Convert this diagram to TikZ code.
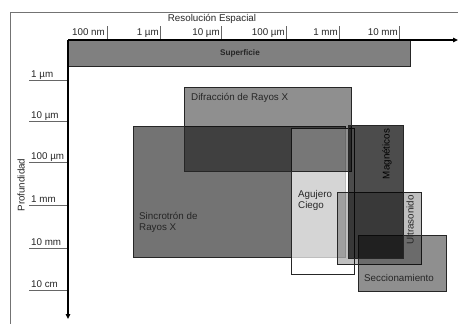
\documentclass[tikz,border=0pt]{standalone}
\usepackage{fontspec}
\setmainfont{Liberation Sans}
\usetikzlibrary{arrows.meta}
\begin{document}
\begin{tikzpicture}[x=1pt,y=-1pt,
  lbl/.style={inner sep=0pt, font=\fontsize{9.8}{11.5}\selectfont, text=black!85},
  band/.style={draw=black!85, line width=0.8pt},
  tickline/.style={draw=black!60, line width=0.6pt},
  axis/.style={line width=1.6pt, -{Triangle[length=5pt,width=4.5pt]}}]
\useasboundingbox (0,0) rectangle (458,324);
% frame
\draw[black!55, line width=0.6pt] (458,12) -- (10,12) -- (10,324);
% bands
\filldraw[band, fill=black!50] (68,40) rectangle (410,66);
\filldraw[band, fill=black!55] (133,126) rectangle (345,257);
\filldraw[band, fill=white, fill opacity=0.7] (291,128) rectangle (354,274);
\filldraw[band, fill=black, fill opacity=0.44] (184,87) rectangle (351,171);
\filldraw[band, fill=black, fill opacity=0.25] (337,192) rectangle (421,264);
\filldraw[band, fill=black, fill opacity=0.44] (358,235) rectangle (446,291);
\filldraw[band, fill=black, fill opacity=0.7] (348,125) rectangle (403,258);
% band labels
\node[lbl, font=\fontsize{8.2}{10}\selectfont\bfseries] (superficie) at (240,53) {Superficie};
\node[lbl, anchor=base west] (difraccion) at (191,100) {Difracción de Rayos X};
\node[lbl, anchor=north west, align=left] (sincrotron) at (139,212) {Sincrotrón de\\Rayos X};
\node[lbl, anchor=north west, align=left] (agujero) at (298,190) {Agujero\\Ciego};
\node[lbl, rotate=90, text=black] (magneticos) at (387,154) {Magnéticos};
\node[lbl, rotate=90] (ultrasonido) at (410,220) {Ultrasonido};
\node[lbl, anchor=base] (seccionamiento) at (399,281) {Seccionamiento};
% axis titles
\node[lbl] (resolucion) at (212,19) {Resolución Espacial};
\node[lbl, rotate=90] (profundidad) at (21,185) {Profundidad};
% top scale
\node[lbl, anchor=base east] (t100nm) at (105,35) {100 nm};
\node[lbl, anchor=base east] (t1um) at (159,35) {1 µm};
\node[lbl, anchor=base east] (t10um) at (220,35) {10 µm};
\node[lbl, anchor=base east] (t100um) at (285,35) {100 µm};
\node[lbl, anchor=base east] (t1mm) at (338,35) {1 mm};
\node[lbl, anchor=base east] (t10mm) at (398,35) {10 mm};
\draw[tickline] (107,26) -- (107,39);
\draw[tickline] (160,26) -- (160,39);
\draw[tickline] (221,26) -- (221,39);
\draw[tickline] (286,26) -- (286,39);
\draw[tickline] (339,26) -- (339,39);
\draw[tickline] (399,26) -- (399,39);
% left scale
\node[lbl, anchor=base west] (d1um) at (31,77) {1 µm};
\node[lbl, anchor=base west] (d10um) at (31,118) {10 µm};
\node[lbl, anchor=base west] (d100um) at (31,159) {100 µm};
\node[lbl, anchor=base west] (d1mm) at (31,202) {1 mm};
\node[lbl, anchor=base west] (d10mm) at (31,245) {10 mm};
\node[lbl, anchor=base west] (d10cm) at (31,287) {10 cm};
\draw[tickline] (29,80) -- (68,80);
\draw[tickline] (29,121) -- (68,121);
\draw[tickline] (29,162) -- (68,162);
\draw[tickline] (29,205) -- (68,205);
\draw[tickline] (29,248) -- (68,248);
\draw[tickline] (29,290) -- (68,290);
% axes
\coordinate (origin) at (68,40);
\coordinate (xend) at (458,40);
\coordinate (yend) at (68,319);
\draw[axis] (origin) -- (xend);
\draw[axis] (origin) -- (yend);
\end{tikzpicture}
\end{document}
